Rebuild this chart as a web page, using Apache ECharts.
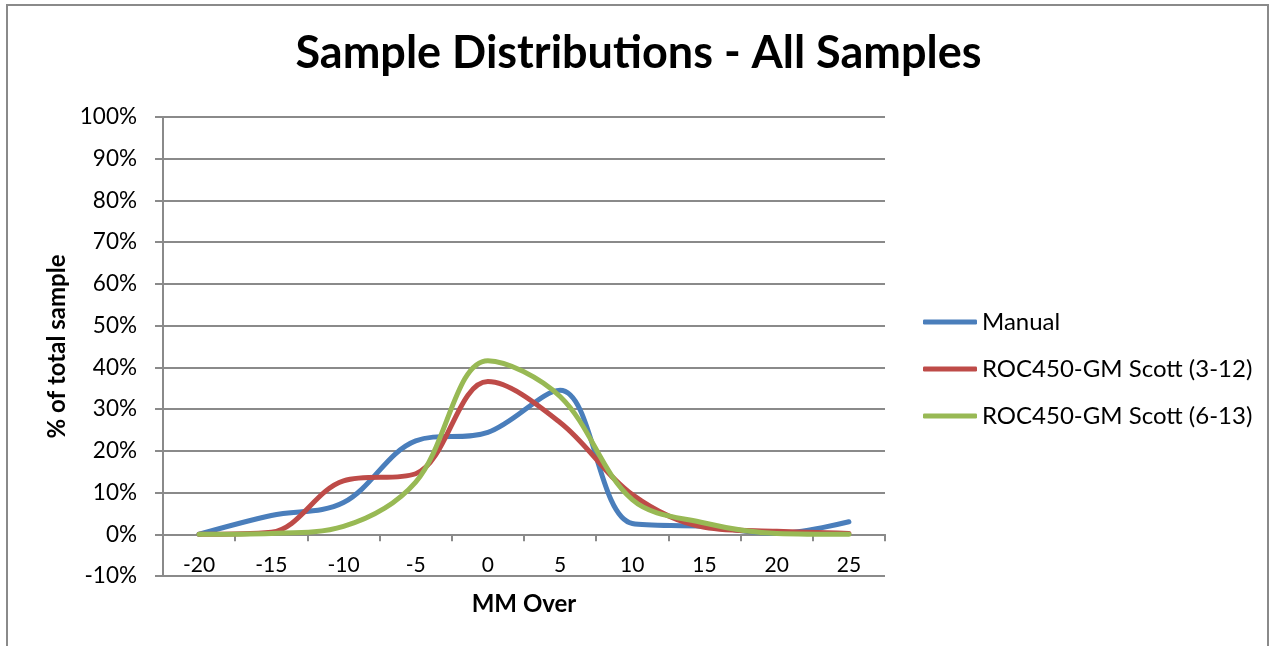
<!DOCTYPE html>
<html>
<head>
<meta charset="utf-8">
<script src="https://cdn.jsdelivr.net/npm/echarts@6/dist/echarts.min.js"></script>
<style>
html,body{margin:0;padding:0;background:#fff;overflow:hidden;}
#chart{width:1277px;height:646px;}
</style>
</head>
<body>
<div id="chart"></div>
<script>
const categories = ['-20','-15','-10','-5','0','5','10','15','20','25'];
const manual = [0, 4.5, 7.6, 22.4, 24.4, 34.5, 2.6, 1.9, 0.2, 3.0];
const roc312 = [0, 0.5, 12.8, 14.5, 36.6, 26.8, 9.5, 1.7, 0.7, 0.2];
const roc613 = [0, 0.2, 1.9, 12.5, 41.6, 33.0, 8.3, 2.7, 0.2, 0];
const seriesNames = ['Manual', 'ROC450-GM Scott (3-12)', 'ROC450-GM Scott (6-13)'];
const yTicks = {min: -10, max: 100, interval: 10};

const FONT = 'Lato, "Open Sans", sans-serif';
const gridColor = '#8a8a8a';

const chart = echarts.init(document.getElementById('chart'), null, {renderer: 'canvas', width: 1277, height: 646});
function mk(name, data, color) {
  return {
    name: name, type: 'line', data: data, smooth: 0.35, symbol: 'none',
    lineStyle: {width: 5, color: color, cap: 'round', join: 'round'},
    itemStyle: {color: color}
  };
}
chart.setOption({
  animation: false,
  backgroundColor: '#fff',
  graphic: [{
    type: 'rect', shape: {x: 7, y: 5, width: 1261, height: 700},
    style: {fill: 'none', stroke: '#8a8a8a', lineWidth: 2}, silent: true, z: -1
  }],
  title: {
    text: 'Sample Distributions - All Samples', left: 'center', top: 26,
    textStyle: {fontFamily: FONT, fontWeight: 'bold', fontSize: 45, color: '#000'}
  },
  grid: {left: 163, top: 117, width: 722, height: 459, containLabel: false},
  legend: {
    orient: 'vertical', left: 918, top: 305, icon: 'roundRect',
    itemWidth: 54, itemHeight: 5, itemGap: 23,
    textStyle: {fontFamily: FONT, fontSize: 24, color: '#000'},
    data: seriesNames
  },
  xAxis: {
    type: 'category', data: categories, boundaryGap: true,
    name: 'MM Over', nameLocation: 'middle', nameGap: 16,
    nameTextStyle: {fontFamily: FONT, fontWeight: 'bold', fontSize: 24, color: '#000'},
    axisLine: {onZero: true, lineStyle: {color: gridColor, width: 2}},
    axisTick: {show: true, length: 7, alignWithLabel: false, lineStyle: {color: gridColor, width: 2}},
    axisLabel: {margin: -21, fontFamily: FONT, fontSize: 21, color: '#000'},
    splitLine: {show: false}
  },
  yAxis: {
    type: 'value', min: yTicks.min, max: yTicks.max, interval: yTicks.interval,
    name: '% of total sample', nameLocation: 'middle', nameGap: 94, nameRotate: 90,
    nameTextStyle: {fontFamily: FONT, fontWeight: 'bold', fontSize: 24, color: '#000'},
    axisLine: {show: true, lineStyle: {color: gridColor, width: 2}},
    axisTick: {show: true, length: 8, lineStyle: {color: gridColor, width: 2}},
    axisLabel: {margin: 26, fontFamily: FONT, fontSize: 22.5, color: '#000', formatter: '{value}%'},
    splitLine: {show: true, lineStyle: {color: gridColor, width: 2}}
  },
  series: [
    mk(seriesNames[0], manual, '#4A7EBB'),
    mk(seriesNames[1], roc312, '#BE4B48'),
    mk(seriesNames[2], roc613, '#98B954')
  ]
});
</script>
</body>
</html>
